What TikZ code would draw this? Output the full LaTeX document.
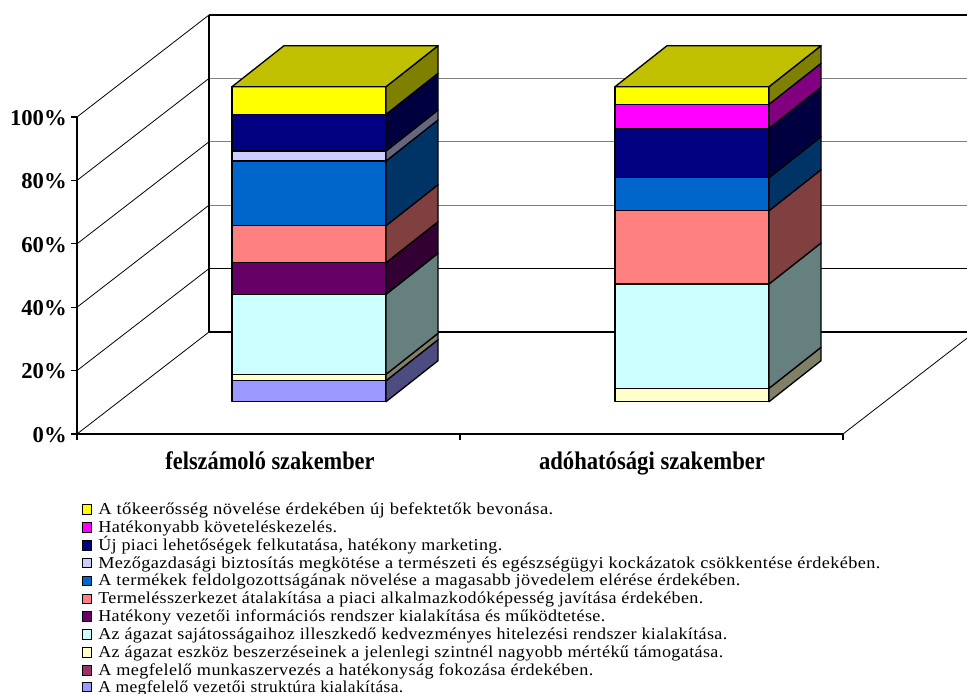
\documentclass[tikz,border=0pt]{standalone}
\usepackage{fontspec}
\setmainfont{Liberation Serif}
\usepackage{graphicx}
\definecolor{cYel}{HTML}{FFFF00}\definecolor{cYelS}{HTML}{808000}\definecolor{cYelT}{HTML}{C0C000}
\definecolor{cMag}{HTML}{FF00FF}\definecolor{cMagS}{HTML}{800080}
\definecolor{cNavy}{HTML}{000080}\definecolor{cNavyS}{HTML}{000040}
\definecolor{cLav}{HTML}{CCCCFF}\definecolor{cLavS}{HTML}{666680}
\definecolor{cBlue}{HTML}{0066CC}\definecolor{cBlueS}{HTML}{003366}
\definecolor{cSal}{HTML}{FF8080}\definecolor{cSalS}{HTML}{804040}
\definecolor{cPur}{HTML}{660066}\definecolor{cPurS}{HTML}{330033}
\definecolor{cCyan}{HTML}{CCFFFF}\definecolor{cCyanS}{HTML}{668080}
\definecolor{cLY}{HTML}{FFFFCC}\definecolor{cLYS}{HTML}{808066}
\definecolor{cMar}{HTML}{993366}
\definecolor{cPeri}{HTML}{9999FF}\definecolor{cPeriS}{HTML}{4C4C80}
% bar segment: left x, lower y, upper y, front colour, side colour
\newcommand\barseg[5]{%
  \filldraw[segline, fill=#4] (#1,#2) rectangle (#1+154,#3);
  \filldraw[segline, fill=#5] (#1+154,#2) -- (#1+206,#2-41) -- (#1+206,#3-41) -- (#1+154,#3) -- cycle;}
\newcommand\bartop[3]{%
  \filldraw[segline, fill=#3] (#1,#2) -- (#1+52,#2-41) -- (#1+206,#2-41) -- (#1+154,#2) -- cycle;}
% legend line: name, baseline y, colour, width, text
\newcommand\legline[5]{%
  \node[legkey, fill=#3] (k#1) at (87,#2-5) {};
  \node[legtext] (t#1) at (98,#2) {\resizebox{#4}{\height}{#5}};}
\begin{document}
\begin{tikzpicture}[x=0.75pt,y=-0.75pt,
  gridln/.style={draw=black!50, line width=0.8pt},
  axln/.style={draw=black, line width=0.8pt},
  thinln/.style={draw=black, line width=0.6pt},
  segline/.style={draw=black, line width=1pt, line join=round},
  ylab/.style={anchor=east, inner sep=0pt, font=\fontsize{17}{19}\selectfont\bfseries},
  catlab/.style={anchor=base, inner sep=0pt, font=\fontsize{19}{21}\selectfont\bfseries},
  legtext/.style={anchor=base west, inner sep=0pt, font=\fontsize{12.5}{14}\selectfont\addfontfeatures{LetterSpace=2}},
  legkey/.style={draw=black, line width=0.6pt, minimum size=7.2pt, inner sep=0pt}]
\useasboundingbox (0,0) rectangle (967,693);
\begin{scope}
\clip (0,0) rectangle (967,693);
% back wall
\foreach \k in {2,3,4} \draw[gridln] (209,{332-63.4*\k}) -- (967,{332-63.4*\k});
\draw[axln] (209,268.6) -- (967,268.6);
\draw[axln] (209,15) -- (967,15);
\draw[axln] (209,332) -- (967,332);
\draw[axln] (209,15) -- (209,332);
% left wall
\foreach \k in {0,...,5} \draw[thinln] (77,{434-63.4*\k}) -- (209,{332-63.4*\k});
% floor
\draw[axln] (77,434) -- (843,434);
\draw[thinln] (843,434) -- (975,332);
\draw[axln] (77,117) -- (77,440);
\foreach \k in {0,...,5} \draw[axln] (71,{434-63.4*\k}) -- (77,{434-63.4*\k});
\draw[axln] (460,434) -- (460,440);
\draw[axln] (843,434) -- (843,440);
\end{scope}
% y labels
\node[ylab] (y0) at (67,435) {0\%};
\node[ylab] (y1) at (67,371.6) {20\%};
\node[ylab] (y2) at (67,308.2) {40\%};
\node[ylab] (y3) at (67,244.8) {60\%};
\node[ylab] (y4) at (67,181.4) {80\%};
\node[ylab] (y5) at (67,118) {100\%};
% bar 1
\barseg{232}{401.7}{380.7}{cPeri}{cPeriS}
\barseg{232}{380.7}{374.3}{cLY}{cLYS}
\barseg{232}{374.3}{294.3}{cCyan}{cCyanS}
\barseg{232}{294.3}{262.7}{cPur}{cPurS}
\barseg{232}{262.7}{225.7}{cSal}{cSalS}
\barseg{232}{225.7}{161}{cBlue}{cBlueS}
\barseg{232}{161}{151}{cLav}{cLavS}
\barseg{232}{151}{114.3}{cNavy}{cNavyS}
\barseg{232}{114.3}{86.7}{cYel}{cYelS}
\bartop{232}{86.7}{cYelT}
% bar 2
\barseg{615}{401.7}{388.3}{cLY}{cLYS}
\barseg{615}{388.3}{284}{cCyan}{cCyanS}
\barseg{615}{284}{210.7}{cSal}{cSalS}
\barseg{615}{210.7}{177.7}{cBlue}{cBlueS}
\barseg{615}{177.7}{128.3}{cNavy}{cNavyS}
\barseg{615}{128.3}{104.3}{cMag}{cMagS}
\barseg{615}{104.3}{86.7}{cYel}{cYelS}
\bartop{615}{86.7}{cYelT}
% categories
\node[catlab] (c1) at (270,469.5) {\resizebox{156.75pt}{\height}{felszámoló szakember}};
\node[catlab] (c2) at (652,469.5) {\resizebox{169.5pt}{\height}{adóhatósági szakember}};
% legend
\legline{1}{514.5}{cYel}{341.25pt}{A tőkeerősség növelése érdekében új befektetők bevonása.}
\legline{2}{532.35}{cMag}{179.25pt}{Hatékonyabb követeléskezelés.}
\legline{3}{550.2}{cNavy}{303pt}{Új piaci lehetőségek felkutatása, hatékony marketing.}
\legline{4}{568.05}{cLav}{586.5pt}{Mezőgazdasági biztosítás megkötése a természeti és egészségügyi kockázatok csökkentése érdekében.}
\legline{5}{585.9}{cBlue}{481.5pt}{A termékek feldolgozottságának növelése a magasabb jövedelem elérése érdekében.}
\legline{6}{603.75}{cSal}{453.75pt}{Termelésszerkezet átalakítása a piaci alkalmazkodóképesség javítása érdekében.}
\legline{7}{621.6}{cPur}{380.25pt}{Hatékony vezetői információs rendszer kialakítása és működtetése.}
\legline{8}{639.45}{cCyan}{471.75pt}{Az ágazat sajátosságaihoz illeszkedő kedvezményes hitelezési rendszer kialakítása.}
\legline{9}{657.3}{cLY}{468.75pt}{Az ágazat eszköz beszerzéseinek a jelenlegi szintnél nagyobb mértékű támogatása.}
\legline{10}{675.15}{cMar}{371.25pt}{A megfelelő munkaszervezés a hatékonyság fokozása érdekében.}
\legline{11}{692}{cPeri}{228.75pt}{A megfelelő vezetői struktúra kialakítása.}
\end{tikzpicture}
\end{document}
